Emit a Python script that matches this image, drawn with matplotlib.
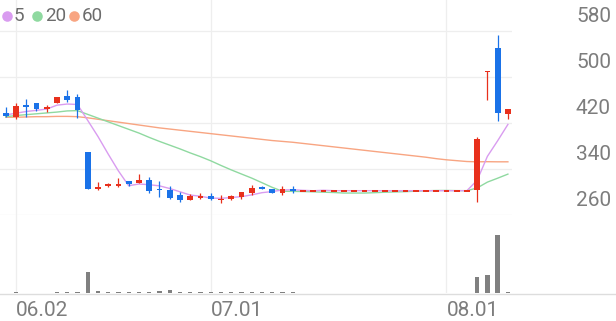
import matplotlib
matplotlib.use("Agg")
import matplotlib.pyplot as plt
from matplotlib.lines import Line2D
import numpy as np

plt.rcParams['font.family'] = ['Roboto', 'DejaVu Sans']

# ---------------- data ----------------
opens = [437, 430, 452, 455, 444, 454, 467, 466, 369, 307,
         311, 311, 319, 316, 321, 306, 304, 294, 286, 290,
         293, 286, 287, 292, 299, 309, 306, 299, 306, 302.3,
         302.3, 302.3, 302.3, 302.3, 302.3, 302.3, 302.3, 302.3, 302.3, 302.3,
         302.3, 302.3, 302.3, 302.3, 302.3, 302.3, 303.5, 509, 550, 436]
highs = [448, 454, 461, 455, 452, 466, 477, 470, 369, 318,
         316, 324, 319, 331, 326, 319, 310, 300, 297, 298,
         298, 294, 294, 300, 313, 311, 306, 311, 311, 302.3,
         302.3, 302.3, 302.3, 302.3, 302.3, 302.3, 302.3, 302.3, 302.3, 302.3,
         302.3, 302.3, 302.3, 302.3, 302.3, 302.3, 395, 511, 573, 444]
lows = [430, 427, 430, 441, 439, 454, 457, 428, 306, 303,
        309, 308, 311, 316, 298, 291, 287, 282, 286, 288,
        286, 280, 286, 288, 294, 305, 298, 295, 299, 302.3,
        302.3, 302.3, 302.3, 302.3, 302.3, 302.3, 302.3, 302.3, 302.3, 302.3,
        302.3, 302.3, 302.3, 302.3, 302.3, 302.3, 283, 460, 424, 427]
closes = [432, 450, 447, 444, 448, 466, 460, 443, 306, 308,
          313, 313, 314.5, 321, 302, 303, 290, 286, 292.5, 291.5,
          287, 288, 293, 300, 307, 306, 298, 306, 302.3, 302.3,
          302.3, 302.3, 302.3, 302.3, 302.3, 302.3, 302.3, 302.3, 302.3, 302.3,
          302.3, 302.3, 302.3, 302.3, 302.3, 302.3, 393, 510, 438, 444]
ma5 = [434, 437, 440, 442, 444.2, 451, 453, 452.2, 424.6, 396.6,
       366, 336.6, 310.9, 313.9, 312.7, 310.7, 306.1, 300.4, 294.7, 292.6,
       289.4, 289, 290.4, 291.9, 295, 298.8, 300.8, 303.4, 303.9, 302.9,
       302.2, 303, 302.3, 302.3, 302.3, 302.3, 302.3, 302.3, 302.3, 302.3,
       302.3, 302.3, 302.3, 302.3, 302.3, 302.3, 320.4, 362, 389.1, 417.5]
ma20 = [431, 433, 434.5, 436, 437.5, 439, 441, 441.5, 435, 428.5,
        422, 415.5, 409, 402.5, 395, 388, 381.5, 375, 368, 361.5,
        354.3, 346.2, 338.5, 331.3, 324.2, 316.2, 308.1, 301.3, 301.1, 300.8,
        300.3, 299.7, 299.1, 298.2, 298.2, 298.2, 298.8, 299.6, 300.1, 300.6,
        301.4, 302.1, 302.6, 302.7, 302.4, 302.3, 307, 317.2, 324, 331.1]
ma60 = [430, 430, 430.5, 431, 431, 431.5, 431.5, 431, 429, 426.5,
        424, 421.5, 419, 416.5, 414, 411.5, 409.5, 407.5, 405.5, 403.5,
        401.5, 399.5, 397.5, 395.5, 393.5, 391.5, 389.5, 388, 386.5, 384.5,
        382.5, 380.5, 378.5, 376.5, 374.5, 372.5, 370.5, 368.5, 366.5, 364.5,
        362.5, 360.5, 358, 356, 354.5, 353, 352.5, 352.7, 352.5, 352.5]
volumes = [0.8, 0.9, 0.7, 0.8, 0.6, 0.9, 1.0, 2.0, 37, 3.5,
           1.5, 1.2, 1.2, 1.5, 2.2, 3.5, 5.0, 2.5, 1.8, 1.0,
           0.9, 1.0, 1.0, 1.2, 1.5, 0.9, 1.0, 1.2, 1.0, 0,
           0, 0, 0, 0, 0, 0, 0, 0, 0, 0,
           0, 0, 0, 0, 0, 0, 28, 31, 100, 1.2]
date_ticks = [1, 20, 43]
date_labels = ['06.02', '07.01', '08.01']
price_ticks = [260, 340, 420, 500, 580]
ma_labels = ['5', '20', '60']

# ---------------- style ----------------
UP = '#e8301c'
DOWN = '#1a72e8'
MA_COLORS = ['#d99cf0', '#8fd9a0', '#f8a582']
GRID = '#eeeeee'
TXT = '#7d7d7d'

W, H = 616, 321
fig = plt.figure(figsize=(W / 100, H / 100), dpi=100)


def rect(x0, y0, x1, y1):
    return [x0 / W, 1 - y1 / H, (x1 - x0) / W, (y1 - y0) / H]


axp = fig.add_axes(rect(0, 0, 512, 215))
axv = fig.add_axes(rect(0, 215, 512, 293))

x = np.arange(len(closes))
xlim = (-0.556, 49.4)

for ax in (axp, axv):
    ax.set_xlim(*xlim)
    for s in ax.spines.values():
        s.set_visible(False)
    ax.set_xticks(date_ticks)
    ax.grid(axis='x', color=GRID, lw=0.9, zorder=0)
    ax.set_axisbelow(True)

axp.set_ylim(260, 633.9)
axp.set_yticks(price_ticks)
axp.grid(axis='y', color=GRID, lw=0.9, zorder=0)
axp.tick_params(left=False, labelleft=False, bottom=False, labelbottom=False)

# moving averages
for vals, c in zip([ma60, ma20, ma5], MA_COLORS[::-1]):
    axp.plot(x, vals, color=c, lw=1.0, zorder=2, solid_joinstyle='round')

# candles
bw = 0.56
minh = 3.0
for i in x:
    o, h, l, c = opens[i], highs[i], lows[i], closes[i]
    col = UP if c >= o else DOWN
    axp.vlines(i, l, h, color=col, lw=0.9, zorder=3)
    bottom = min(o, c)
    height = abs(c - o)
    if height < minh:
        bottom = (o + c) / 2 - minh / 2
        height = minh
    axp.bar(i, height, bottom=bottom, width=bw, color=col, lw=0, zorder=4)

# price labels on the right
for v in price_ticks:
    axp.annotate(str(v), xy=(611 / W, v), xycoords=('figure fraction', 'data'),
                 xytext=(0, 14), textcoords='offset pixels', ha='right', va='center',
                 fontsize=15, color=TXT, annotation_clip=False)

# volume
axv.bar(x, volumes, width=0.42, color='#808080', lw=0, zorder=3)
axv.set_ylim(0, 135)
axv.set_yticks([])
axv.set_xticklabels(date_labels, ha='left')
axv.tick_params(axis='x', length=0, pad=6, labelsize=15, labelcolor=TXT)

# baseline across the full width
fig.add_artist(Line2D([0, 1], [1 - 293.5 / H] * 2, transform=fig.transFigure,
                      color='#dddddd', lw=1.0))

# legend
leg_circle_x = [6.7, 36.7, 74.0]
leg_text_x = [14.0, 45.0, 82.0]
for cx, tx, lab, col in zip(leg_circle_x, leg_text_x, ma_labels, MA_COLORS):
    fig.add_artist(Line2D([cx / W], [1 - 15.7 / H], marker='o', ms=7.6, color=col,
                          mec='none', transform=fig.transFigure, lw=0))
    fig.text(tx / W, 1 - 15.7 / H, lab, ha='left', va='center', fontsize=13.5,
             color='#6c6c6c')

fig.savefig('out.png', dpi=100)
